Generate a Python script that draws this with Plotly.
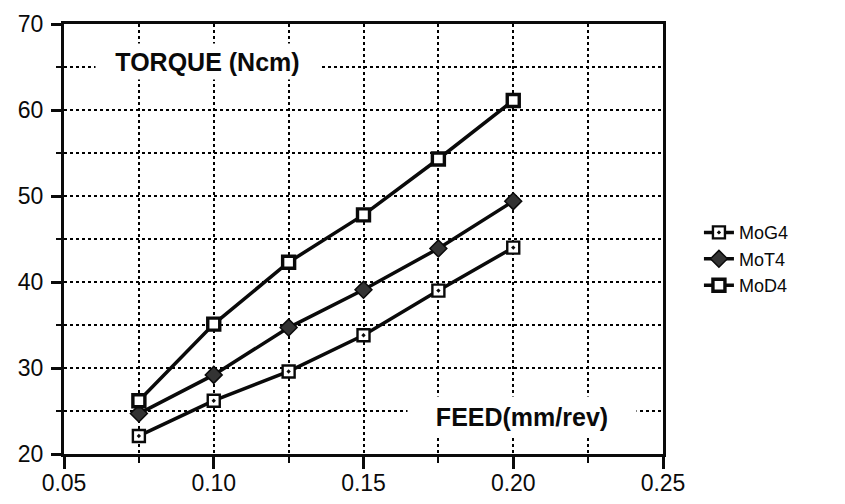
import plotly.graph_objects as go

# Feed rate (mm/rev)
feed = [0.075, 0.100, 0.125, 0.150, 0.175, 0.200]

# Torque (Ncm) for each tool
mog4 = [22.1, 26.2, 29.6, 33.8, 39.0, 44.0]
mot4 = [24.7, 29.2, 34.7, 39.1, 43.9, 49.4]
mod4 = [26.2, 35.1, 42.3, 47.8, 54.3, 61.1]

series_names = ["MoG4", "MoT4", "MoD4"]

FONT = "Liberation Sans, Arial, Helvetica, sans-serif"
INK = "#0a0a0a"

fig = go.Figure()

fig.add_trace(go.Scatter(
    x=feed, y=mog4, name=series_names[0], mode="lines+markers",
    line=dict(color=INK, width=3.5),
    marker=dict(symbol="square-dot", size=12, color="white",
                line=dict(color=INK, width=2.4)),
))
fig.add_trace(go.Scatter(
    x=feed, y=mot4, name=series_names[1], mode="lines+markers",
    line=dict(color=INK, width=3.5),
    marker=dict(symbol="diamond", size=13, color="#333333",
                line=dict(color=INK, width=1.5)),
))
fig.add_trace(go.Scatter(
    x=feed, y=mod4, name=series_names[2], mode="lines+markers",
    line=dict(color=INK, width=3.5),
    marker=dict(symbol="square", size=12, color="white",
                line=dict(color=INK, width=3.4)),
))

grid = dict(showgrid=True, gridcolor="#000000", gridwidth=1.6, griddash="dot")

fig.update_xaxes(
    range=[0.05, 0.25], tick0=0.05, dtick=0.05, tickformat=".2f",
    ticks="outside", ticklen=12, tickwidth=2.5, tickcolor=INK,
    ticklabelstandoff=-6, automargin=False,
    showline=True, linecolor=INK, linewidth=3, mirror=True,
    zeroline=False,
    tickfont=dict(family=FONT, size=23, color=INK),
    minor=dict(dtick=0.025, ticks="outside", ticklen=6, tickwidth=2,
               tickcolor=INK, **grid),
    **grid,
)
fig.update_yaxes(
    range=[20, 70], tick0=20, dtick=10,
    ticks="outside", ticklen=10, tickwidth=2.5, tickcolor=INK,
    ticklabelstandoff=3, automargin=False,
    showline=True, linecolor=INK, linewidth=3, mirror=True,
    zeroline=False,
    tickfont=dict(family=FONT, size=23, color=INK),
    minor=dict(dtick=5, ticks="outside", ticklen=5, tickwidth=2,
               tickcolor=INK, **grid),
    **grid,
)

# In-plot axis captions on white boxes that interrupt the grid
fig.add_annotation(
    x=0.0979, y=65.6, xref="x", yref="y", text="<b>TORQUE (Ncm)</b>",
    showarrow=False, font=dict(family=FONT, size=25, color=INK),
    bgcolor="white", width=221, height=33, xanchor="center", yanchor="middle",
)
fig.add_annotation(
    x=0.203, y=24.4, xref="x", yref="y", text="<b>FEED(mm/rev)</b>",
    showarrow=False, font=dict(family=FONT, size=25, color=INK),
    bgcolor="white", width=226, height=37, xanchor="center", yanchor="middle",
)

fig.update_layout(
    width=845, height=504,
    margin=dict(l=64, r=182, t=24, b=50, autoexpand=False),
    paper_bgcolor="white", plot_bgcolor="white",
    font=dict(family=FONT, color=INK),
    legend=dict(
        x=1.06, y=0.453, xanchor="left", yanchor="middle",
        font=dict(family=FONT, size=18, color=INK),
        bgcolor="rgba(0,0,0,0)", itemwidth=30,
    ),
)

fig.write_html("out.html")
